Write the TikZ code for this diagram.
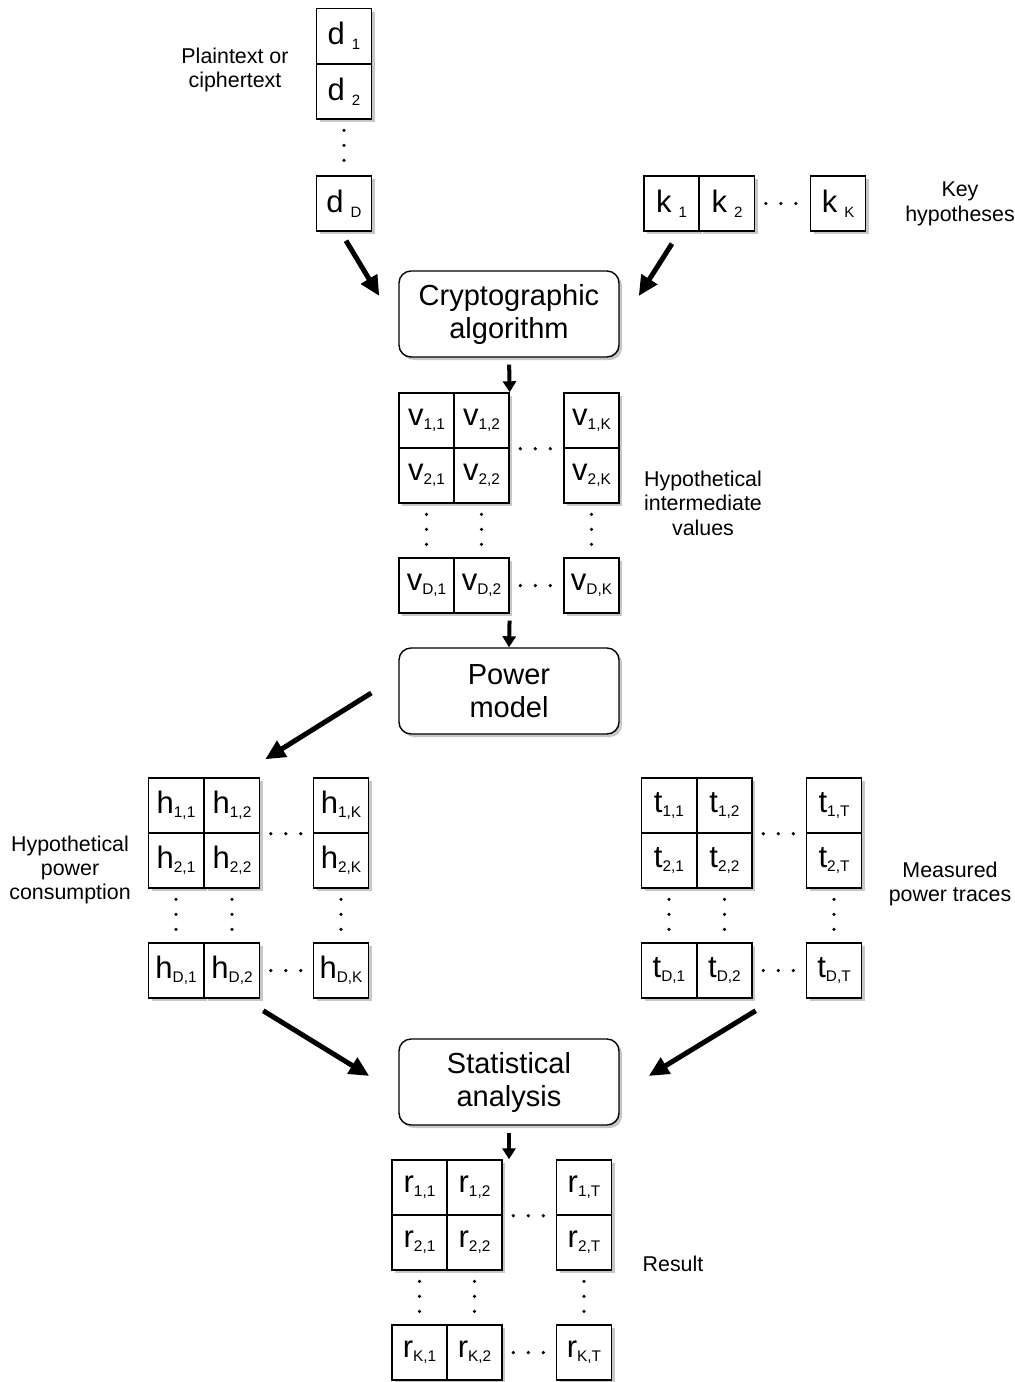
\documentclass[tikz,border=0pt]{standalone}
\usepackage{fontspec}
\setmainfont{Liberation Sans}
\usetikzlibrary{arrows.meta, shadows, calc}

\newcommand{\lsub}[1]{\raisebox{-0.25ex}{\fontsize{7.7}{9}\selectfont #1}}
\newcommand{\wsub}[1]{\hspace{3.5pt}\raisebox{-0.3ex}{\fontsize{7.5}{9}\selectfont #1}}

\tikzset{
	cell/.style={draw, fill=white, line width=0.7pt, minimum size=27.5pt, inner sep=0pt,
		font=\fontsize{15.5}{17}\selectfont,
		drop shadow={shadow xshift=1.5pt, shadow yshift=-1.5pt, fill=black!22, opacity=1}},
	proc/.style={draw, fill=white, line width=0.7pt, rounded corners=6pt, minimum width=110pt,
		minimum height=43pt, align=center, font=\fontsize{14.5}{16.5}\selectfont,
		drop shadow={shadow xshift=1.5pt, shadow yshift=-1.5pt, fill=black!22, opacity=1}},
	note/.style={align=center, font=\fontsize{10.7}{12.2}\selectfont},
	flow/.style={line width=2.5pt, -{Triangle[length=10pt,width=9pt]}},
	stub/.style={line width=2pt, shorten <=3.5pt, -{Triangle[length=5.5pt,width=6.5pt]}},
	dotgap/.style={line width=1.8pt, line cap=round, dash pattern=on 0pt off 7.5pt,
		shorten <=5.3pt, shorten >=5.3pt}
}

\begin{document}
\begin{tikzpicture}[x=0.5pt, y=-0.5pt]
	\useasboundingbox (0,0) rectangle (1015,1382);
	% data inputs
	\node [cell] (d1) at (344,36) {d\wsub{1}};
	\node [cell] (d2) at (344,91.5) {d\wsub{2}};
	\node [cell] (dD) at (344,203.5) {d\wsub{D}};
	\draw [dotgap] (d2.south) -- (dD.north);
	\node [note] (plain) at (235,70) {Plaintext or\\ciphertext};
	% key hypotheses
	\node [cell] (k1) at (671.5,203.5) {k\wsub{1}};
	\node [cell] (k2) at (727,203.5) {k\wsub{2}};
	\node [cell] (kK) at (838,203.5) {k\wsub{K}};
	\draw [dotgap] (k2.east) -- (kK.west);
	\node [note] (keys) at (960,204) {Key\\hypotheses};
	% algorithm
	\node [proc] (crypto) at (509,314) {Cryptographic\\algorithm};
	\draw [flow] ($(dD.south)+(2,9)$) -- ($(crypto.west)+(-19,-18)$);
	\draw [flow] ($(k1.south)+(0.5,12)$) -- ($(crypto.east)+(19,-18)$);
	% intermediate values
	\node [cell] (v11) at (426.5,420.5) {v\lsub{1,1}};
	\node [cell] (v12) at (481.5,420.5) {v\lsub{1,2}};
	\node [cell] (v1K) at (591.5,420.5) {v\lsub{1,K}};
	\node [cell] (v21) at (426.5,475.5) {v\lsub{2,1}};
	\node [cell] (v22) at (481.5,475.5) {v\lsub{2,2}};
	\node [cell] (v2K) at (591.5,475.5) {v\lsub{2,K}};
	\node [cell] (vD1) at (426.5,585.5) {v\lsub{D,1}};
	\node [cell] (vD2) at (481.5,585.5) {v\lsub{D,2}};
	\node [cell] (vDK) at (591.5,585.5) {v\lsub{D,K}};
	\draw [dotgap] (v12.south east) -- (v1K.south west);
	\draw [dotgap] (vD2.east) -- (vDK.west);
	\draw [dotgap] (v21.south) -- (vD1.north);
	\draw [dotgap] (v22.south) -- (vD2.north);
	\draw [dotgap] (v2K.south) -- (vDK.north);
	\node [note] (interm) at (703,503) {Hypothetical\\intermediate\\values};
	\draw [stub] (crypto.south) -- (v12.north east);
	% power model
	\node [proc] (power) at (509,691) {Power\\model};
	\draw [stub] (vD2.south east) -- (power.north);
	% hypothetical consumption
	\node [cell] (h11) at (176,805.5) {h\lsub{1,1}};
	\node [cell] (h12) at (232,805.5) {h\lsub{1,2}};
	\node [cell] (h1K) at (341,805.5) {h\lsub{1,K}};
	\node [cell] (h21) at (176,860.5) {h\lsub{2,1}};
	\node [cell] (h22) at (232,860.5) {h\lsub{2,2}};
	\node [cell] (h2K) at (341,860.5) {h\lsub{2,K}};
	\node [cell] (hD1) at (176,970.5) {h\lsub{D,1}};
	\node [cell] (hD2) at (232,970.5) {h\lsub{D,2}};
	\node [cell] (hDK) at (341,970.5) {h\lsub{D,K}};
	\draw [dotgap] (h12.south east) -- (h1K.south west);
	\draw [dotgap] (hD2.east) -- (hDK.west);
	\draw [dotgap] (h21.south) -- (hD1.north);
	\draw [dotgap] (h22.south) -- (hD2.north);
	\draw [dotgap] (h2K.south) -- (hDK.north);
	\node [note] (hyppow) at (70,870) {Hypothetical\\power\\consumption};
	\draw [flow] ($(power.west)+(-27,2)$) -- ($(h12.north east)+(5,-18)$);
	% measured traces
	\node [cell] (t11) at (669,805.5) {t\lsub{1,1}};
	\node [cell] (t12) at (724.5,805.5) {t\lsub{1,2}};
	\node [cell] (t1T) at (834,805.5) {t\lsub{1,T}};
	\node [cell] (t21) at (669,860.5) {t\lsub{2,1}};
	\node [cell] (t22) at (724.5,860.5) {t\lsub{2,2}};
	\node [cell] (t2T) at (834,860.5) {t\lsub{2,T}};
	\node [cell] (tD1) at (669,970.5) {t\lsub{D,1}};
	\node [cell] (tD2) at (724.5,970.5) {t\lsub{D,2}};
	\node [cell] (tDT) at (834,970.5) {t\lsub{D,T}};
	\draw [dotgap] (t12.south east) -- (t1T.south west);
	\draw [dotgap] (tD2.east) -- (tDT.west);
	\draw [dotgap] (t21.south) -- (tD1.north);
	\draw [dotgap] (t22.south) -- (tD2.north);
	\draw [dotgap] (t2T.south) -- (tDT.north);
	\node [note] (meas) at (950,884) {Measured\\power traces};
	% analysis
	\node [proc] (stat) at (509,1082) {Statistical\\analysis};
	\draw [flow] ($(hD2.south east)+(3,12)$) -- ($(stat.west)+(-29,-6)$);
	\draw [flow] ($(tD2.south east)+(3,12)$) -- ($(stat.east)+(29,-6)$);
	% result
	\node [cell] (r11) at (419.5,1187.5) {r\lsub{1,1}};
	\node [cell] (r12) at (474.5,1187.5) {r\lsub{1,2}};
	\node [cell] (r1T) at (584,1187.5) {r\lsub{1,T}};
	\node [cell] (r21) at (419.5,1242.5) {r\lsub{2,1}};
	\node [cell] (r22) at (474.5,1242.5) {r\lsub{2,2}};
	\node [cell] (r2T) at (584,1242.5) {r\lsub{2,T}};
	\node [cell] (rK1) at (419.5,1352.5) {r\lsub{K,1}};
	\node [cell] (rK2) at (474.5,1352.5) {r\lsub{K,2}};
	\node [cell] (rKT) at (584,1352.5) {r\lsub{K,T}};
	\draw [dotgap] (r12.south east) -- (r1T.south west);
	\draw [dotgap] (rK2.east) -- (rKT.west);
	\draw [dotgap] (r21.south) -- (rK1.north);
	\draw [dotgap] (r22.south) -- (rK2.north);
	\draw [dotgap] (r2T.south) -- (rKT.north);
	\node [note] (result) at (673,1264) {Result};
	\draw [stub] (stat.south) -- (stat.south |- r12.north);
\end{tikzpicture}
\end{document}
